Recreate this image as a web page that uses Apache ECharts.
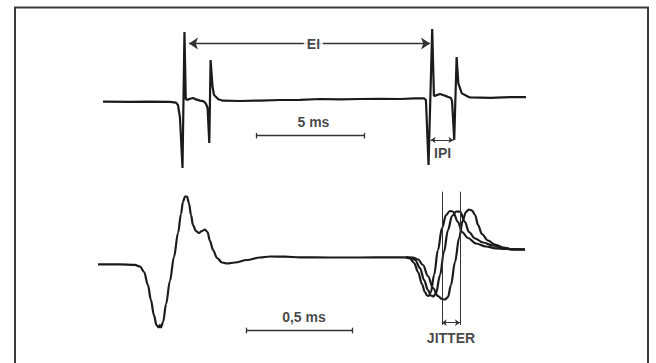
<!DOCTYPE html>
<html>
<head>
<meta charset="utf-8">
<script src="https://cdn.jsdelivr.net/npm/echarts@6/dist/echarts.min.js"></script>
<style>
html, body { margin: 0; padding: 0; background: #fff; }
#chart { width: 656px; height: 363px; }
</style>
</head>
<body>
<div id="chart"></div>
<script>
// upper recording (ms / arbitrary amplitude)
const topTime = [0.14, 1.39, 2.31, 3.24, 3.52, 3.61, 3.70, 3.82, 3.91, 3.97, 4.03, 4.13, 4.31, 4.44, 4.63, 4.81, 4.91, 4.98, 5.06, 5.12, 5.21, 5.28, 5.48, 5.69, 6.48, 7.41, 8.33, 9.26, 10.19, 11.11, 12.04, 12.96, 13.89, 14.58, 15.00, 15.09, 15.21, 15.38, 15.46, 15.56, 15.74, 15.88, 16.06, 16.25, 16.30, 16.40, 16.51, 16.59, 16.75, 17.05, 17.13, 18.06, 18.98, 19.72];
const topAmp = [-0.03, -0.04, -0.03, -0.04, -0.08, -0.2, -0.8, -3.35, 3.45, 0.1, 0.05, 0.1, 0.15, 0.08, 0.02, -0.02, -0.15, -0.35, -2.1, 2.05, 0.72, 0.3, 0.085, 0.015, 0, 0.02, 0.05, 0.06, 0.1, 0.08, 0.1, 0.11, 0.1, 0.13, 0.13, 0.05, -3.2, 3.6, 0.25, 0.28, 0.35, 0.3, 0.23, 0.15, -0.03, -1.95, 2.2, 0.88, 0.38, 0.21, 0.18, 0.16, 0.19, 0.19];

// lower recording, common part (ms / arbitrary amplitude)
const lowTime = [0, 0.103, 0.173, 0.197, 0.216, 0.234, 0.248, 0.262, 0.274, 0.284, 0.290, 0.295, 0.305, 0.319, 0.337, 0.356, 0.375, 0.389, 0.398, 0.408, 0.417, 0.426, 0.436, 0.445, 0.459, 0.473, 0.487, 0.501, 0.513, 0.525, 0.539, 0.558, 0.581, 0.605, 0.642, 0.698, 0.759, 0.806, 0.876, 0.947, 1.087, 1.228, 1.368, 1.443];
const lowAmp = [-0.34, -0.34, -0.365, -0.45, -0.725, -1.375, -2.125, -2.875, -3.375, -3.5, -3.375, -3.5, -3.225, -2.325, -1.175, 0.025, 1.225, 2.175, 2.775, 3.05, 3.05, 2.725, 2.125, 1.625, 1.325, 1.225, 1.325, 1.4, 1.275, 0.825, 0.375, -0.025, -0.25, -0.3, -0.25, -0.125, 0, 0.05, 0.04, 0.01, 0, 0, 0.01, 0.01];

// three superimposed discharges of the second fibre
const jitATime = [1.443, 1.462, 1.481, 1.500, 1.518, 1.532, 1.542, 1.551, 1.560, 1.575, 1.593, 1.612, 1.631, 1.649, 1.663, 1.687, 1.706, 1.734, 1.771, 1.818, 1.865, 1.912, 2.001];
const jitAAmp = [0.01, -0.05, -0.275, -0.725, -1.325, -1.725, -1.9, -1.925, -1.725, -0.875, 0.375, 1.475, 2.125, 2.325, 2.3, 1.775, 1.275, 0.975, 0.7, 0.55, 0.46, 0.425, 0.4];
const jitBTime = [1.443, 1.467, 1.486, 1.509, 1.528, 1.546, 1.560, 1.572, 1.584, 1.603, 1.621, 1.640, 1.659, 1.678, 1.696, 1.720, 1.738, 1.767, 1.804, 1.851, 1.898, 1.940, 2.001];
const jitBAmp = [0.01, -0.015, -0.125, -0.525, -1.125, -1.625, -1.9, -1.95, -1.775, -0.875, 0.275, 1.375, 2.075, 2.3, 2.29, 1.775, 1.275, 0.95, 0.75, 0.6, 0.475, 0.41, 0.4];
const jitCTime = [1.443, 1.476, 1.500, 1.523, 1.546, 1.570, 1.593, 1.612, 1.626, 1.640, 1.654, 1.673, 1.692, 1.710, 1.724, 1.738, 1.753, 1.767, 1.781, 1.799, 1.827, 1.860, 1.898, 1.940, 2.001];
const jitCAmp = [0.01, 0, -0.1, -0.375, -0.925, -1.525, -1.925, -2.075, -2.1, -1.975, -1.375, -0.225, 0.975, 1.875, 2.275, 2.4, 2.35, 2.125, 1.625, 1.175, 0.85, 0.65, 0.5, 0.41, 0.4];

// annotations
const eiSpan = [4.12, 15.28];
const eiLevel = 2.875;
const ipiSpan = [15.31, 16.36];
const ipiLevel = -1.95;
const topBar = [7.25, 12.25];          // 5 ms
const topBarLevel = -1.735;
const lowBar = [0.6935, 1.1935];       // 0,5 ms
const lowBarLevel = -3.65;
const jitterLines = [1.611, 1.696];
const jitterRange = [-3.375, 3.29];
const jitterArrowLevel = -3.26;

const topLabelText = ['EI', '5 ms', 'IPI'];
const topLabelTime = [9.88, 9.88, 15.86];
const topLabelAmp = [2.875, -1.065, -2.58];
const lowLabelText = ['0,5 ms', 'JITTER'];
const lowLabelTime = [0.965, 1.654];
const lowLabelAmp = [-2.975, -4.025];

const ink = '#1b1b1b';
const zip = (a, b) => a.map((v, i) => [v, b[i]]);

function seg(x1, y1, x2, y2) {
  return [{ coord: [x1, y1] }, { coord: [x2, y2] }];
}

function trace(data, idx, smooth) {
  return {
    type: 'line',
    xAxisIndex: idx,
    yAxisIndex: idx,
    data: data,
    showSymbol: false,
    symbol: 'none',
    smooth: smooth,
    smoothMonotone: 'x',
    silent: true,
    lineStyle: { color: ink, width: 2.2 },
    z: 3
  };
}

function tickMarks(span, level, h) {
  return span.map(t => seg(t, level - h, t, level + h));
}

function plainLines(idx, lines, width) {
  return {
    type: 'line',
    xAxisIndex: idx,
    yAxisIndex: idx,
    data: [],
    markLine: {
      silent: true,
      symbol: 'none',
      label: { show: false },
      lineStyle: { type: 'solid', color: '#333', width: width },
      data: lines
    }
  };
}

function arrow(idx, span, level, size, width) {
  return {
    type: 'line',
    xAxisIndex: idx,
    yAxisIndex: idx,
    data: [],
    markLine: {
      silent: true,
      symbol: ['arrow', 'arrow'],
      symbolSize: size,
      label: { show: false },
      lineStyle: { type: 'solid', color: '#333', width: width },
      data: [seg(span[0], level, span[1], level)]
    }
  };
}

function labels(text, time, amp, idx) {
  return {
    type: 'scatter',
    xAxisIndex: idx,
    yAxisIndex: idx,
    symbolSize: 0,
    silent: true,
    z: 6,
    data: text.map((s, i) => [time[i], amp[i], s]),
    label: {
      show: true,
      position: 'inside',
      align: 'center',
      verticalAlign: 'middle',
      formatter: p => p.value[2],
      fontFamily: '"Liberation Sans", Arial, sans-serif',
      fontWeight: 'bold',
      fontSize: 14,
      color: '#151515',
      backgroundColor: '#fff',
      padding: [0, 3]
    }
  };
}

const chart = echarts.init(document.getElementById('chart'), null, { renderer: 'svg' });

const option = {
  animation: false,
  backgroundColor: '#fff',
  graphic: [{
    type: 'rect',
    shape: { x: 15, y: 7.5, width: 633, height: 400 },
    style: { fill: 'none', stroke: '#3a3a3a', lineWidth: 2 },
    silent: true
  }],
  grid: [
    { left: 100, top: 21, width: 432, height: 160 },
    { left: 98, top: 177.5, width: 426.8, height: 180 }
  ],
  xAxis: [
    { type: 'value', gridIndex: 0, min: 0, max: 20, show: false },
    { type: 'value', gridIndex: 1, min: 0, max: 2, show: false }
  ],
  yAxis: [
    { type: 'value', gridIndex: 0, min: -4, max: 4, show: false },
    { type: 'value', gridIndex: 1, min: -5, max: 4, show: false }
  ],
  series: [
    trace(zip(topTime, topAmp), 0, false),
    trace(zip(lowTime, lowAmp), 1, 0.35),
    trace(zip(jitATime, jitAAmp), 1, 0.35),
    trace(zip(jitBTime, jitBAmp), 1, 0.35),
    trace(zip(jitCTime, jitCAmp), 1, 0.35),
    plainLines(0, [seg(topBar[0], topBarLevel, topBar[1], topBarLevel)].concat(tickMarks(topBar, topBarLevel, 0.14)), 1.3),
    plainLines(1, [seg(lowBar[0], lowBarLevel, lowBar[1], lowBarLevel)].concat(tickMarks(lowBar, lowBarLevel, 0.14)), 1.3),
    plainLines(1, jitterLines.map(t => seg(t, jitterRange[0], t, jitterRange[1])), 1),
    arrow(0, eiSpan, eiLevel, 9, 1.3),
    arrow(0, ipiSpan, ipiLevel, 5, 1),
    arrow(1, jitterLines, jitterArrowLevel, 5, 1),
    labels(topLabelText, topLabelTime, topLabelAmp, 0),
    labels(lowLabelText, lowLabelTime, lowLabelAmp, 1)
  ]
};

chart.setOption(option);
</script>
</body>
</html>
